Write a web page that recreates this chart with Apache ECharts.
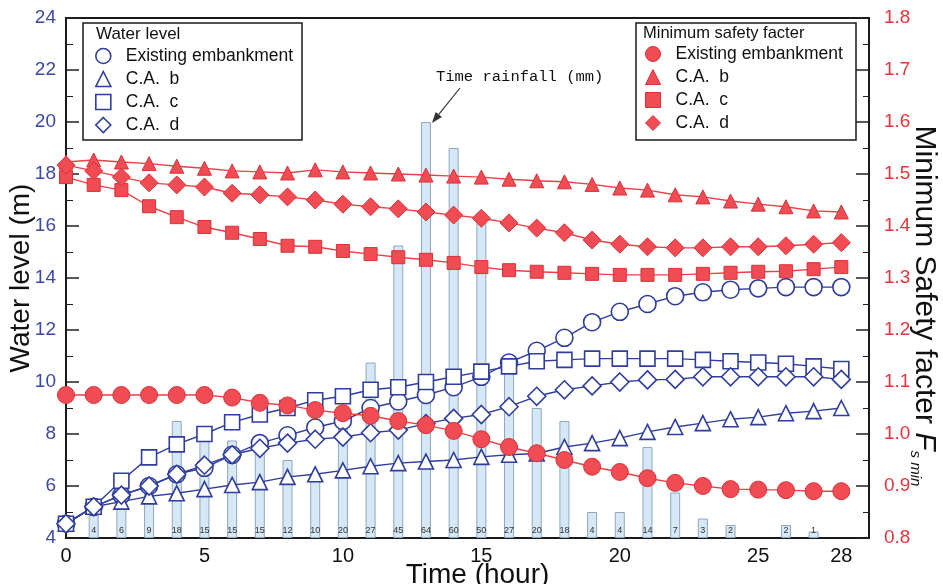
<!DOCTYPE html>
<html>
<head>
<meta charset="utf-8">
<script src="https://cdn.jsdelivr.net/npm/echarts@6/dist/echarts.min.js"></script>
<style>
html,body{margin:0;padding:0;background:#fff;}
#c{width:943px;height:584px;}
</style>
</head>
<body>
<div id="c"></div>
<script>
// ---------- data ----------
const hours = [0,1,2,3,4,5,6,7,8,9,10,11,12,13,14,15,16,17,18,19,20,21,22,23,24,25,26,27,28];
const xTickLabels = [0,5,10,15,20,25,28];

// Water level (m), left axis
const wlExisting = [4.55,5.2,5.65,6.0,6.45,6.7,7.2,7.65,7.95,8.25,8.5,9.0,9.25,9.5,9.8,10.2,10.75,11.2,11.7,12.3,12.7,13.0,13.3,13.45,13.55,13.6,13.65,13.65,13.65];
const wlCAb = [4.55,5.2,5.4,5.6,5.72,5.88,6.04,6.15,6.35,6.45,6.6,6.76,6.88,6.94,7.0,7.12,7.2,7.25,7.5,7.65,7.84,8.08,8.27,8.42,8.57,8.65,8.8,8.88,9.0];
const wlCAc = [4.55,5.2,6.2,7.1,7.6,8.0,8.45,8.75,9.0,9.3,9.45,9.7,9.8,10.0,10.2,10.4,10.6,10.8,10.85,10.9,10.9,10.9,10.9,10.85,10.8,10.75,10.7,10.6,10.5];
const wlCAd = [4.55,5.2,5.65,6.0,6.45,6.8,7.2,7.45,7.65,7.8,7.88,8.05,8.15,8.4,8.6,8.75,9.05,9.45,9.7,9.85,10.0,10.08,10.1,10.2,10.2,10.2,10.2,10.2,10.1];

// Minimum safety factor, right axis
const sfExisting = [1.075,1.075,1.075,1.075,1.075,1.075,1.07,1.06,1.055,1.046,1.04,1.035,1.025,1.017,1.006,0.99,0.975,0.963,0.95,0.937,0.927,0.915,0.906,0.9,0.894,0.893,0.892,0.89,0.89];
const sfCAb = [1.523,1.527,1.523,1.52,1.515,1.511,1.506,1.504,1.502,1.508,1.504,1.502,1.5,1.498,1.496,1.494,1.49,1.487,1.485,1.48,1.473,1.469,1.46,1.456,1.448,1.442,1.437,1.429,1.427];
const sfCAc = [1.494,1.479,1.469,1.438,1.417,1.398,1.387,1.375,1.362,1.36,1.352,1.346,1.34,1.335,1.329,1.321,1.315,1.312,1.31,1.308,1.306,1.306,1.306,1.308,1.31,1.312,1.313,1.317,1.321];
const sfCAd = [1.517,1.506,1.494,1.483,1.479,1.475,1.463,1.46,1.456,1.45,1.442,1.437,1.433,1.427,1.421,1.415,1.406,1.396,1.387,1.373,1.365,1.36,1.358,1.358,1.36,1.36,1.362,1.365,1.368];

// Hourly rainfall (mm)
const rainHours = [1,2,3,4,5,6,7,8,9,10,11,12,13,14,15,16,17,18,19,20,21,22,23,24,25,26,27];
const rainfall  = [4,6,9,18,15,15,15,12,10,20,27,45,64,60,50,27,20,18,4,4,14,7,3,2,0,2,1];

const legendLeftTitle = 'Water level';
const legendRightTitle = 'Minimum safety facter';
const seriesNames = ['Existing embankment','C.A.  b','C.A.  c','C.A.  d'];

// ---------- styles ----------
const BLUE = '#2f3d9e';
const RED = '#ee3e46';
const REDFILL = '#f14b53';
const FONT = '"Liberation Sans", Arial, sans-serif';

const pairs = arr => hours.map((h,i)=>[h, arr[i]]);
const symbols = ['circle','triangle','rect','diamond'];
const blueSizes = [17,15,15,18];
const redSizes = [17,14,13,18];

const wlArrays = [wlExisting, wlCAb, wlCAc, wlCAd];
const sfArrays = [sfExisting, sfCAb, sfCAc, sfCAd];

const series = [];
series.push({
  name: 'rain', type: 'bar', xAxisIndex: 0, yAxisIndex: 2, barWidth: 10, z: 1,
  data: rainHours.map((h,i)=>[h, rainfall[i]]).filter(d=>d[1]>0),
  itemStyle: { color: '#d6e7f5', borderColor: '#8ea8c2', borderWidth: 1 },
  label: { show: true, position: 'insideBottom', distance: 3, fontSize: 9, color: '#333', fontFamily: FONT,
           formatter: p => p.value[1] },
  silent: true
});
wlArrays.forEach((arr,k)=>{
  series.push({
    name: 'WL|' + seriesNames[k], type: 'line', xAxisIndex: 0, yAxisIndex: 0, z: 3,
    data: pairs(arr), symbol: symbols[k], symbolSize: blueSizes[k],
    lineStyle: { color: BLUE, width: 1.4 },
    itemStyle: { color: '#ffffff', borderColor: BLUE, borderWidth: 1.6 },
    animation: false
  });
});
sfArrays.forEach((arr,k)=>{
  series.push({
    name: 'SF|' + seriesNames[k], type: 'line', xAxisIndex: 0, yAxisIndex: 1, z: 4,
    data: pairs(arr), symbol: symbols[k], symbolSize: redSizes[k],
    lineStyle: { color: RED, width: 1.4 },
    itemStyle: { color: REDFILL, borderColor: '#d8323a', borderWidth: 1 },
    animation: false
  });
});

const legendCommon = {
  orient: 'vertical', itemWidth: 15, itemHeight: 15, itemGap: 5, selectedMode: false,
  symbolKeepAspect: true,
  textStyle: { fontSize: 17, color: '#111', fontFamily: FONT,
    rich: { t: { fontSize: 17.5, color: '#111', fontFamily: FONT, padding: [0,0,0,10] } } },
  formatter: n => '{t|' + n.split('|')[1] + '}', padding: 0
};

const option = {
  animation: false,
  backgroundColor: '#fff',
  grid: { left: 66, right: 74, top: 18, bottom: 46, show: true, borderColor: '#1a1a1a', borderWidth: 2,
          backgroundColor: 'transparent', containLabel: false, outerBoundsMode: 'none' },
  legend: [
    Object.assign({}, legendCommon, {
      left: 95, top: 47,
      data: seriesNames.map((n,k)=>({ name: 'WL|'+n, icon: symbols[k],
        itemStyle: { color: '#fff', borderColor: BLUE, borderWidth: 1.6 } }))
    }),
    Object.assign({}, legendCommon, {
      left: 645, top: 45,
      data: seriesNames.map((n,k)=>({ name: 'SF|'+n, icon: symbols[k],
        itemStyle: { color: REDFILL, borderColor: '#d8323a', borderWidth: 1 } }))
    })
  ],
  xAxis: {
    type: 'value', min: 0, max: 29, interval: 1,
    axisLine: { show: false }, axisTick: { show: false }, splitLine: { show: false },
    axisLabel: { fontSize: 20, color: '#111', fontFamily: FONT, margin: 8,
      formatter: v => xTickLabels.indexOf(v) >= 0 ? String(v) : '' },
    name: 'Time (hour)', nameLocation: 'middle', nameGap: 23, nameMoveOverlap: false,
    nameTextStyle: { fontSize: 28, color: '#111', fontFamily: FONT, verticalAlign: 'top', padding: [0, 0, 0, 20] }
  },
  yAxis: [
    {
      type: 'value', min: 4, max: 24, interval: 2, position: 'left',
      axisLine: { show: false },
      axisTick: { show: true, inside: true, length: 13, lineStyle: { color: '#222', width: 1.5 } },
      minorTick: { show: true, splitNumber: 2, length: 7, lineStyle: { color: '#222', width: 1 } },
      splitLine: { show: false },
      axisLabel: { fontSize: 19, color: '#3b48a6', fontFamily: FONT, margin: 10 },
      name: 'Water level (m)', nameLocation: 'middle', nameGap: 31, nameRotate: 90, nameMoveOverlap: false,
      nameTextStyle: { fontSize: 28, color: '#111', fontFamily: FONT }
    },
    {
      type: 'value', min: 0.8, max: 1.8, interval: 0.1, position: 'right',
      axisLine: { show: false },
      axisTick: { show: true, inside: true, length: 13, lineStyle: { color: '#222', width: 1.5 } },
      minorTick: { show: true, splitNumber: 2, length: 6, lineStyle: { color: '#222', width: 1 } },
      splitLine: { show: false },
      axisLabel: { fontSize: 19, color: '#e8343c', fontFamily: FONT, margin: 15,
        formatter: v => v.toFixed(1) },
      name: 'Minimum Safety facter {f|F}{s|s min}', nameLocation: 'middle', nameGap: 39, nameRotate: -90,
      nameMoveOverlap: false,
      nameTextStyle: { fontSize: 30, color: '#111', fontFamily: FONT, lineHeight: 32, padding: [0, 0, 0, 56],
        rich: {
          f: { fontSize: 30, fontStyle: 'italic', color: '#111', fontFamily: FONT, lineHeight: 32 },
          s: { fontSize: 15, fontStyle: 'italic', color: '#111', fontFamily: FONT, lineHeight: 15, verticalAlign: 'bottom' }
        } }
    },
    { type: 'value', min: 0, max: 80, show: false }
  ],
  graphic: [
    { id: 'boxL', type: 'rect', shape: { x: 83, y: 23, width: 219, height: 117 }, style: { fill: 'rgba(255,255,255,0)', stroke: '#1a1a1a', lineWidth: 1.5 }, z: 10 },
    { id: 'boxR', type: 'rect', shape: { x: 636, y: 23, width: 220, height: 117 }, style: { fill: 'rgba(255,255,255,0)', stroke: '#1a1a1a', lineWidth: 1.5 }, z: 10 },
    { id: 'titleL', type: 'text', left: 96, top: 26, style: { text: legendLeftTitle, fontSize: 17, fill: '#111', fontFamily: FONT }, z: 10 },
    { id: 'titleR', type: 'text', left: 643, top: 25, style: { text: legendRightTitle, fontSize: 16.5, fill: '#111', fontFamily: FONT }, z: 10 }
  ],
  series: series
};

const chart = echarts.init(document.getElementById('c'), null, { renderer: 'canvas' });
chart.setOption(option);

// Annotation arrow pointing at the peak rainfall bar (computed through the axes)
const peakIdx = rainfall.indexOf(Math.max.apply(null, rainfall));
const tip = chart.convertToPixel({ xAxisIndex: 0, yAxisIndex: 2 }, [rainHours[peakIdx], rainfall[peakIdx]]);
const tx = tip[0] + 6, ty = tip[1] + 1;
const sx = tx + 28, sy = ty - 35;
const ang = Math.atan2(ty - sy, tx - sx);
const hl = 11, hw = 4;
const bx = tx - hl * Math.cos(ang), by = ty - hl * Math.sin(ang);
chart.setOption({
  graphic: [
    { id: 'arrowLine', type: 'line', shape: { x1: sx, y1: sy, x2: bx, y2: by }, style: { stroke: '#333', lineWidth: 1.2 }, z: 10 },
    { id: 'arrowHead', type: 'polygon', shape: { points: [[tx, ty], [bx + hw * Math.sin(ang), by - hw * Math.cos(ang)], [bx - hw * Math.sin(ang), by + hw * Math.cos(ang)]] }, style: { fill: '#333' }, z: 10 },
    { id: 'rainText', type: 'text', left: tip[0] + 10, top: sy - 19, style: { text: 'Time rainfall (mm)', fontSize: 15.5, fill: '#111', fontFamily: '"Liberation Mono", "DejaVu Sans Mono", monospace' }, z: 10 }
  ]
});
</script>
</body>
</html>
